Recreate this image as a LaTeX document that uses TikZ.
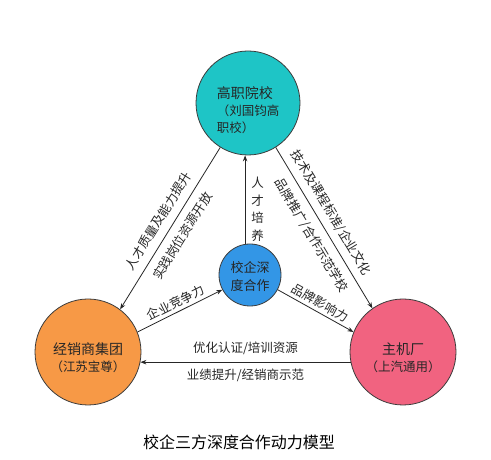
\documentclass[tikz,border=0pt]{standalone}
\usepackage{fontspec}
\setmainfont{Noto Sans CJK SC}
\usetikzlibrary{arrows.meta}
\definecolor{gaozhic}{RGB}{30,197,198}
\definecolor{jingxiaoc}{RGB}{247,153,70}
\definecolor{zhujic}{RGB}{241,99,128}
\definecolor{hexinc}{RGB}{51,150,230}
\definecolor{rimc}{RGB}{60,60,60}
\tikzset{
  circ/.style={circle, draw=rimc, line width=0.8pt, inner sep=0pt},
  ctext/.style={text=black!85, font=\fontsize{12.5}{17}\selectfont},
  conn/.style={line width=0.8pt, black!85},
  lbl/.style={font=\fontsize{12.5}{15}\selectfont, inner sep=2pt},
  tip/.style={-{Stealth[length=6pt,width=4.5pt]}}
}

\begin{document}
\begin{tikzpicture}[x=1pt,y=1pt]
\useasboundingbox (0,0) rectangle (491,460);
\fill[white] (0,0) rectangle (491,460);
\node[circ, fill=gaozhic, minimum size=104pt] (gaozhi) at (248,357) {};
\node[circ, fill=jingxiaoc, minimum size=106pt] (jingxiao) at (88,108) {};
\node[circ, fill=zhujic, minimum size=106pt] (zhuji) at (403,108) {};
\node[circ, fill=hexinc, minimum size=62pt] (hexin) at (250,185) {};
\node[ctext, align=left] (gaozhitxt) at ([yshift=-7]gaozhi.center)
  {{\fontsize{14}{17}\selectfont 高职院校}\\（刘国钧高\\职校）};
\node[ctext, align=center] (jingxiaotxt) at ([yshift=-6]jingxiao.center)
  {{\fontsize{14}{17}\selectfont 经销商集团}\\（江苏宝尊）};
\node[ctext, align=center] (zhujitxt) at ([yshift=-6]zhuji.center)
  {{\fontsize{14}{17}\selectfont 主机厂}\\（上汽通用）};
\node[ctext, align=center, font=\fontsize{13}{18}\selectfont] (hexintxt) at ([yshift=-2]hexin.center)
  {校企深\\度合作};
% connectors
\draw[conn, tip] (hexin.99) -- (hexin.99 |- gaozhi.south)
  node[lbl, pos=0.39, right, xshift=4pt, align=center, font=\fontsize{12.5}{17.5}\selectfont] {人\\才\\培\\养};
\draw[conn, tip] (jingxiao.22) -- (hexin.208)
  node[lbl, midway, sloped, above, yshift=1pt] {企业竞争力};
\draw[conn, tip] (hexin.332) -- (zhuji.158)
  node[lbl, midway, sloped, above, yshift=1pt] {品牌影响力};
\draw[conn, tip, {Stealth[length=6pt,width=4.5pt]}-] (jingxiao.53) -- (gaozhi.238)
  node[lbl, midway, sloped, above, yshift=6pt] {人才质量及能力提升}
  node[lbl, midway, sloped, below, yshift=-6pt] {实践岗位资源开放};
\draw[conn, tip] (gaozhi.302) -- (zhuji.125)
  node[lbl, pos=0.45, sloped, above, yshift=5pt] {技术及课程标准/企业文化}
  node[lbl, midway, sloped, below, yshift=-6pt] {品牌推广/合作示范学校};
\draw[conn, tip, {Stealth[length=6pt,width=4.5pt]}-] (jingxiao.-11) -- (zhuji.191)
  node[lbl, midway, above, yshift=5pt] {优化认证/培训资源}
  node[lbl, midway, below, yshift=-4pt] {业绩提升/经销商示范};
\node[font=\fontsize{16}{19}\selectfont] (title) at (239,18) {校企三方深度合作动力模型};
\end{tikzpicture}
\end{document}
